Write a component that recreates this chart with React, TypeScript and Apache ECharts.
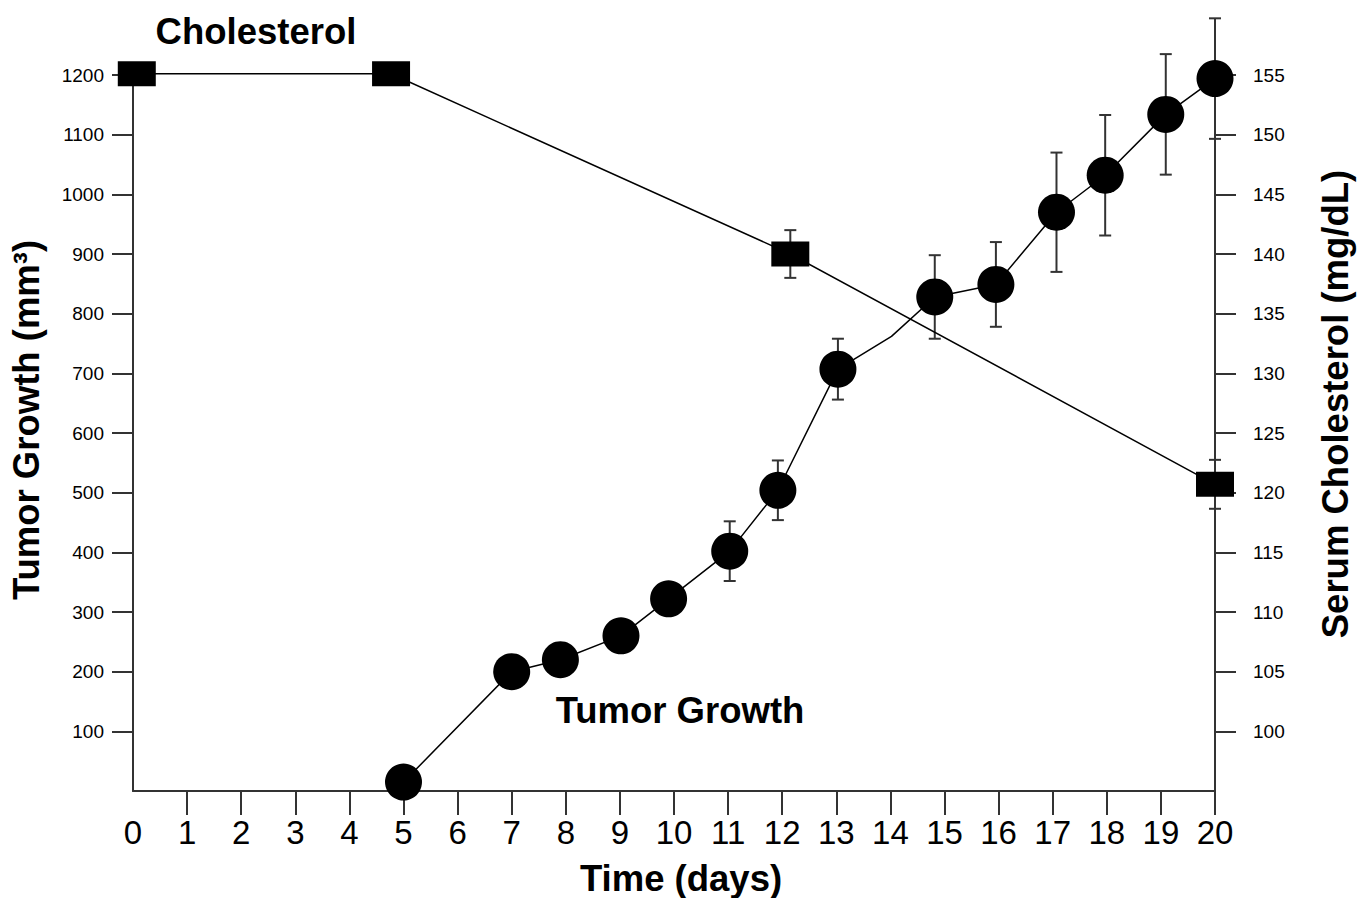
import React, { useEffect, useRef } from "react";
import * as echarts from "echarts";

// Tumor growth (left axis, mm³)
const tumorDays = [5, 7, 7.9, 9.02, 9.9, 11.03, 11.92, 13.03, 14.02, 14.82, 15.95, 17.07, 17.97, 19.09, 20];
const tumorValues = [15, 200, 220, 260, 322, 402, 504, 707, 762, 828, 849, 970, 1032, 1134, 1194];
const tumorErrors = [0, 0, 0, 0, 0, 50, 50, 51, 0, 70, 71, 100, 101, 101, 101];
const tumorHiddenMarker = [false, false, false, false, false, false, false, false, true, false, false, false, false, false, false];

// Serum cholesterol (right axis, mg/dL)
const cholDays = [0.07, 4.77, 12.15, 20];
const cholValues = [155.1, 155.1, 140, 120.7];
const cholErrors = [0, 0, 2, 2.05];

// Axis ticks
const xLabels = Array.from({ length: 21 }, (_, i) => i);
const xTicks = xLabels.slice(1);
const leftTicks = [100, 200, 300, 400, 500, 600, 700, 800, 900, 1000, 1100, 1200];
const rightTicks = [100, 105, 110, 115, 120, 125, 130, 135, 140, 145, 150, 155];

const FONT = "'Liberation Sans', Arial, sans-serif";
const TITLE_SIZE = 36.5;

function errorRenderer(params: any, api: any) {
  const x = api.value(0);
  const lo = api.value(1);
  const hi = api.value(2);
  const top = api.coord([x, hi]);
  const bot = api.coord([x, lo]);
  const hw = 6;
  const style = { stroke: "#333", lineWidth: 2 };
  return {
    type: "group",
    children: [
      { type: "line", shape: { x1: top[0], y1: top[1], x2: bot[0], y2: bot[1] }, style },
      { type: "line", shape: { x1: top[0] - hw, y1: top[1], x2: top[0] + hw, y2: top[1] }, style },
      { type: "line", shape: { x1: bot[0] - hw, y1: bot[1], x2: bot[0] + hw, y2: bot[1] }, style },
    ],
  };
}

export default function App() {
  const ref = useRef<HTMLDivElement>(null);
  useEffect(() => {
    if (!ref.current) return;
    const chart = echarts.init(ref.current, undefined, { renderer: "svg" });

    const tumorData = tumorDays.map((d, i) =>
      tumorHiddenMarker[i] ? { value: [d, tumorValues[i]], symbol: "none" } : { value: [d, tumorValues[i]] }
    );
    const tumorErr = tumorDays
      .map((d, i) => [d, tumorValues[i] - tumorErrors[i], tumorValues[i] + tumorErrors[i], tumorErrors[i]])
      .filter((r) => r[3] > 0)
      .map((r) => r.slice(0, 3));
    const cholData = cholDays.map((d, i) => [d, cholValues[i]]);
    const cholErr = cholDays
      .map((d, i) => [d, cholValues[i] - cholErrors[i], cholValues[i] + cholErrors[i], cholErrors[i]])
      .filter((r) => r[3] > 0)
      .map((r) => r.slice(0, 3));

    const axisLine = { show: true, lineStyle: { color: "#333", width: 2 } };
    const plain = (v: number) => String(v);

    chart.setOption({
      animation: false,
      backgroundColor: "#fff",
      grid: { left: 133, right: 143, top: 75, bottom: 107, containLabel: false, outerBoundsMode: "none" },
      xAxis: {
        type: "value",
        min: 0,
        max: 20,
        interval: 1,
        name: "Time (days)",
        nameLocation: "middle",
        nameGap: 69,
        nameTextStyle: { fontFamily: FONT, fontSize: TITLE_SIZE, fontWeight: "bold", color: "#000", padding: [0, 0, 0, 14] },
        axisLine,
        splitLine: { show: false },
        axisTick: { show: true, inside: false, length: 24, customValues: xTicks, lineStyle: { color: "#333", width: 2 } },
        axisLabel: { customValues: xLabels, margin: 25, fontFamily: FONT, fontSize: 33, color: "#000", formatter: plain },
      },
      yAxis: [
        {
          type: "value",
          position: "left",
          min: 0,
          max: 1200,
          interval: 100,
          name: "Tumor Growth (mm³)",
          nameLocation: "middle",
          nameGap: 88,
          nameTextStyle: { fontFamily: FONT, fontSize: TITLE_SIZE, fontWeight: "bold", color: "#000", padding: [0, 0, 0, 26] },
          axisLine,
          splitLine: { show: false },
          axisTick: { show: true, inside: false, length: 21, customValues: leftTicks, lineStyle: { color: "#333", width: 2 } },
          axisLabel: { customValues: leftTicks, margin: 29, fontFamily: FONT, fontSize: 19, color: "#000", formatter: plain },
        },
        {
          type: "value",
          position: "right",
          min: 95,
          max: 155,
          interval: 5,
          name: "Serum Cholesterol (mg/dL)",
          nameLocation: "middle",
          nameGap: 102,
          nameTextStyle: { fontFamily: FONT, fontSize: TITLE_SIZE, fontWeight: "bold", color: "#000", padding: [0, 0, 0, 58] },
          axisLine,
          splitLine: { show: false },
          axisTick: { show: true, inside: false, length: 21, customValues: rightTicks, lineStyle: { color: "#333", width: 2 } },
          axisLabel: { customValues: rightTicks, margin: 38, fontFamily: FONT, fontSize: 19, color: "#000", formatter: plain },
        },
      ],
      series: [
        {
          type: "custom",
          name: "Tumor error",
          yAxisIndex: 0,
          renderItem: errorRenderer,
          encode: { x: 0, y: [1, 2] },
          data: tumorErr,
          clip: false,
          z: 1,
        },
        {
          type: "custom",
          name: "Cholesterol error",
          yAxisIndex: 1,
          renderItem: errorRenderer,
          encode: { x: 0, y: [1, 2] },
          data: cholErr,
          clip: false,
          z: 1,
        },
        {
          type: "line",
          name: "Tumor Growth",
          yAxisIndex: 0,
          data: tumorData,
          symbol: "circle",
          symbolSize: 37,
          showAllSymbol: true,
          clip: false,
          itemStyle: { color: "#000" },
          lineStyle: { color: "#000", width: 1.5 },
          z: 3,
        },
        {
          type: "line",
          name: "Cholesterol",
          yAxisIndex: 1,
          data: cholData,
          symbol: "rect",
          symbolSize: [38, 25],
          showAllSymbol: true,
          clip: false,
          itemStyle: { color: "#000" },
          lineStyle: { color: "#000", width: 1.5 },
          z: 3,
        },
      ],
      graphic: [
        {
          type: "text",
          x: 256,
          y: 31,
          style: { text: "Cholesterol", fontFamily: FONT, fontSize: TITLE_SIZE, fontWeight: "bold", fill: "#000", textAlign: "center", textVerticalAlign: "middle" },
        },
        {
          type: "text",
          x: 680,
          y: 710,
          style: { text: "Tumor Growth", fontFamily: FONT, fontSize: TITLE_SIZE, fontWeight: "bold", fill: "#000", textAlign: "center", textVerticalAlign: "middle" },
        },
      ],
    });
    return () => chart.dispose();
  }, []);
  return (
    <div style={{ position: "fixed", left: 0, top: 0, width: 1358, height: 898, background: "#fff" }}>
      <div ref={ref} style={{ width: 1358, height: 898 }} />
    </div>
  );
}
